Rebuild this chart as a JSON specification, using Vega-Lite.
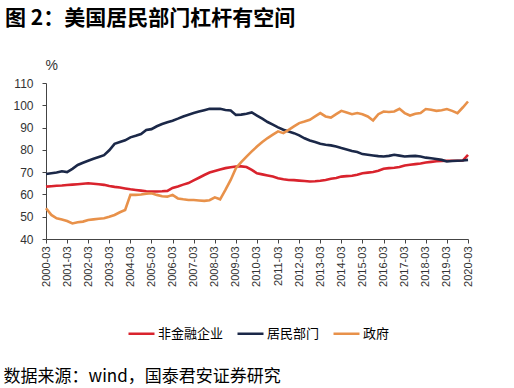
{
  "$schema": "https://vega.github.io/schema/vega-lite/v6.json",
  "padding": {"left": 3, "top": 8, "right": 5, "bottom": 2},
  "background": "white",
  "width": 422,
  "height": 156,
  "title": {"text": "图 2：美国居民部门杠杆有空间", "anchor": "start", "frame": "group", "font": "Noto Sans CJK SC", "fontSize": 21, "fontWeight": "bold", "color": "#000000", "offset": 29, "dx": -41},
  "data": {"values": [
      {"d": "2000-03-01", "a": 63.5, "b": 69.2, "c": 53.8},
      {"d": "2000-06-01", "a": 63.7, "b": 69.5, "c": 50.8},
      {"d": "2000-09-01", "a": 63.9, "b": 69.8, "c": 49.3},
      {"d": "2000-12-01", "a": 64.0, "b": 70.4, "c": 48.8},
      {"d": "2001-03-01", "a": 64.2, "b": 70.0, "c": 48.1},
      {"d": "2001-06-01", "a": 64.4, "b": 71.5, "c": 47.0},
      {"d": "2001-09-01", "a": 64.6, "b": 73.2, "c": 47.5},
      {"d": "2001-12-01", "a": 64.8, "b": 74.2, "c": 47.8},
      {"d": "2002-03-01", "a": 65.0, "b": 75.1, "c": 48.5},
      {"d": "2002-06-01", "a": 64.8, "b": 76.0, "c": 48.8},
      {"d": "2002-09-01", "a": 64.6, "b": 76.8, "c": 49.1},
      {"d": "2002-12-01", "a": 64.3, "b": 77.6, "c": 49.3},
      {"d": "2003-03-01", "a": 63.8, "b": 79.8, "c": 50.0},
      {"d": "2003-06-01", "a": 63.4, "b": 82.7, "c": 50.8},
      {"d": "2003-09-01", "a": 63.1, "b": 83.5, "c": 52.0},
      {"d": "2003-12-01", "a": 62.7, "b": 84.3, "c": 53.0},
      {"d": "2004-03-01", "a": 62.3, "b": 85.6, "c": 59.8},
      {"d": "2004-06-01", "a": 62.0, "b": 86.3, "c": 59.8},
      {"d": "2004-09-01", "a": 61.7, "b": 87.1, "c": 60.0},
      {"d": "2004-12-01", "a": 61.4, "b": 88.9, "c": 60.3},
      {"d": "2005-03-01", "a": 61.3, "b": 89.3, "c": 60.5},
      {"d": "2005-06-01", "a": 61.3, "b": 90.6, "c": 59.8},
      {"d": "2005-09-01", "a": 61.4, "b": 91.6, "c": 59.2},
      {"d": "2005-12-01", "a": 61.6, "b": 92.4, "c": 59.0},
      {"d": "2006-03-01", "a": 62.9, "b": 93.1, "c": 59.8},
      {"d": "2006-06-01", "a": 63.6, "b": 94.0, "c": 58.2},
      {"d": "2006-09-01", "a": 64.4, "b": 95.0, "c": 57.8},
      {"d": "2006-12-01", "a": 65.1, "b": 95.8, "c": 57.5},
      {"d": "2007-03-01", "a": 66.3, "b": 96.5, "c": 57.5},
      {"d": "2007-06-01", "a": 67.5, "b": 97.2, "c": 57.3},
      {"d": "2007-09-01", "a": 68.7, "b": 97.8, "c": 57.1},
      {"d": "2007-12-01", "a": 69.8, "b": 98.4, "c": 57.4},
      {"d": "2008-03-01", "a": 70.5, "b": 98.4, "c": 58.7},
      {"d": "2008-06-01", "a": 71.2, "b": 98.4, "c": 57.8},
      {"d": "2008-09-01", "a": 71.8, "b": 97.9, "c": 62.0},
      {"d": "2008-12-01", "a": 72.2, "b": 97.7, "c": 66.5},
      {"d": "2009-03-01", "a": 72.5, "b": 95.7, "c": 71.8},
      {"d": "2009-06-01", "a": 72.6, "b": 95.8, "c": 74.5},
      {"d": "2009-09-01", "a": 72.3, "b": 96.2, "c": 77.0},
      {"d": "2009-12-01", "a": 71.0, "b": 96.8, "c": 79.3},
      {"d": "2010-03-01", "a": 69.5, "b": 95.4, "c": 81.5},
      {"d": "2010-06-01", "a": 69.0, "b": 94.0, "c": 83.5},
      {"d": "2010-09-01", "a": 68.5, "b": 92.5, "c": 85.3},
      {"d": "2010-12-01", "a": 68.0, "b": 91.3, "c": 86.8},
      {"d": "2011-03-01", "a": 67.3, "b": 90.1, "c": 88.3},
      {"d": "2011-06-01", "a": 66.8, "b": 89.0, "c": 87.5},
      {"d": "2011-09-01", "a": 66.5, "b": 88.2, "c": 89.0},
      {"d": "2011-12-01", "a": 66.4, "b": 87.5, "c": 90.5},
      {"d": "2012-03-01", "a": 66.2, "b": 86.5, "c": 92.0},
      {"d": "2012-06-01", "a": 66.0, "b": 85.2, "c": 92.7},
      {"d": "2012-09-01", "a": 65.8, "b": 84.2, "c": 93.5},
      {"d": "2012-12-01", "a": 65.9, "b": 83.5, "c": 95.0},
      {"d": "2013-03-01", "a": 66.1, "b": 82.7, "c": 96.5},
      {"d": "2013-06-01", "a": 66.5, "b": 82.3, "c": 95.0},
      {"d": "2013-09-01", "a": 67.0, "b": 82.0, "c": 94.5},
      {"d": "2013-12-01", "a": 67.4, "b": 81.5, "c": 96.0},
      {"d": "2014-03-01", "a": 68.0, "b": 80.8, "c": 97.5},
      {"d": "2014-06-01", "a": 68.2, "b": 80.2, "c": 96.8},
      {"d": "2014-09-01", "a": 68.4, "b": 79.5, "c": 96.0},
      {"d": "2014-12-01", "a": 68.8, "b": 79.0, "c": 96.5},
      {"d": "2015-03-01", "a": 69.5, "b": 78.1, "c": 96.0},
      {"d": "2015-06-01", "a": 69.8, "b": 77.8, "c": 95.0},
      {"d": "2015-09-01", "a": 70.1, "b": 77.5, "c": 93.2},
      {"d": "2015-12-01", "a": 70.6, "b": 77.2, "c": 96.0},
      {"d": "2016-03-01", "a": 71.5, "b": 77.0, "c": 97.2},
      {"d": "2016-06-01", "a": 71.8, "b": 77.3, "c": 97.0},
      {"d": "2016-09-01", "a": 72.0, "b": 77.8, "c": 97.2},
      {"d": "2016-12-01", "a": 72.3, "b": 77.4, "c": 98.4},
      {"d": "2017-03-01", "a": 73.0, "b": 77.0, "c": 96.5},
      {"d": "2017-06-01", "a": 73.3, "b": 77.2, "c": 95.4},
      {"d": "2017-09-01", "a": 73.6, "b": 77.3, "c": 96.2},
      {"d": "2017-12-01", "a": 73.9, "b": 77.0, "c": 96.5},
      {"d": "2018-03-01", "a": 74.3, "b": 76.5, "c": 98.3},
      {"d": "2018-06-01", "a": 74.6, "b": 76.2, "c": 98.0},
      {"d": "2018-09-01", "a": 74.9, "b": 75.9, "c": 97.5},
      {"d": "2018-12-01", "a": 75.0, "b": 75.5, "c": 97.8},
      {"d": "2019-03-01", "a": 75.1, "b": 74.8, "c": 98.3},
      {"d": "2019-06-01", "a": 75.1, "b": 75.0, "c": 97.5},
      {"d": "2019-09-01", "a": 75.1, "b": 75.1, "c": 96.5},
      {"d": "2019-12-01", "a": 75.2, "b": 75.2, "c": 99.0},
      {"d": "2020-03-01", "a": 77.8, "b": 75.5, "c": 101.7}
  ]},
  "transform": [
    {"fold": ["a", "b", "c"], "as": ["k", "v"]},
    {"lookup": "k", "from": {"data": {"values": [
      {"k": "a", "s": "非金融企业"},
      {"k": "b", "s": "居民部门"},
      {"k": "c", "s": "政府"}
    ]}, "key": "k", "fields": ["s"]}}
  ],
  "mark": {"type": "line", "strokeWidth": 2.6, "interpolate": "linear"},
  "encoding": {
    "x": {
      "field": "d", "type": "temporal",
      "scale": {"type": "utc", "domain": [{"year": 2000, "month": 3, "date": 1, "utc": true}, {"year": 2020, "month": 3, "date": 1, "utc": true}], "nice": false},
      "axis": {
        "title": "数据来源：wind，国泰君安证券研究",
        "titleFont": "Noto Sans CJK SC",
        "titleFontSize": 17,
        "titleFontWeight": "normal",
        "titleColor": "#000000",
        "titleAlign": "left",
        "titleAnchor": "start",
        "titleBaseline": "middle",
        "titleX": -43,
        "titleY": 137,
        "values": [
          {"year": 2000, "month": 3, "date": 1, "utc": true},
          {"year": 2001, "month": 3, "date": 1, "utc": true},
          {"year": 2002, "month": 3, "date": 1, "utc": true},
          {"year": 2003, "month": 3, "date": 1, "utc": true},
          {"year": 2004, "month": 3, "date": 1, "utc": true},
          {"year": 2005, "month": 3, "date": 1, "utc": true},
          {"year": 2006, "month": 3, "date": 1, "utc": true},
          {"year": 2007, "month": 3, "date": 1, "utc": true},
          {"year": 2008, "month": 3, "date": 1, "utc": true},
          {"year": 2009, "month": 3, "date": 1, "utc": true},
          {"year": 2010, "month": 3, "date": 1, "utc": true},
          {"year": 2011, "month": 3, "date": 1, "utc": true},
          {"year": 2012, "month": 3, "date": 1, "utc": true},
          {"year": 2013, "month": 3, "date": 1, "utc": true},
          {"year": 2014, "month": 3, "date": 1, "utc": true},
          {"year": 2015, "month": 3, "date": 1, "utc": true},
          {"year": 2016, "month": 3, "date": 1, "utc": true},
          {"year": 2017, "month": 3, "date": 1, "utc": true},
          {"year": 2018, "month": 3, "date": 1, "utc": true},
          {"year": 2019, "month": 3, "date": 1, "utc": true},
          {"year": 2020, "month": 3, "date": 1, "utc": true}
        ],
        "labelExpr": "utcFormat(datum.value, '%Y-%m')",
        "labelAngle": -90,
        "labelFont": "Liberation Sans",
        "labelFontSize": 11,
        "labelColor": "#333333",
        "labelPadding": 3,
        "labelOverlap": false,
        "labelFlush": false,
        "tickSize": 4,
        "tickColor": "#444444",
        "domainColor": "#444444",
        "grid": false
      }
    },
    "y": {
      "field": "v", "type": "quantitative",
      "scale": {"domain": [40, 110], "nice": false, "zero": false},
      "axis": {
        "title": "%",
        "titleAngle": 0,
        "titleAlign": "left",
        "titleBaseline": "bottom",
        "titleX": -1,
        "titleY": -11,
        "titleFont": "Liberation Sans",
        "titleFontSize": 14,
        "titleFontWeight": "normal",
        "titleColor": "#333333",
        "values": [40, 50, 60, 70, 80, 90, 100, 110],
        "labelFont": "Liberation Sans",
        "labelFontSize": 12,
        "labelColor": "#333333",
        "labelPadding": 9,
        "tickSize": 4,
        "tickColor": "#444444",
        "domainColor": "#444444",
        "grid": false
      }
    },
    "color": {
      "field": "s", "type": "nominal",
      "scale": {"domain": ["非金融企业", "居民部门", "政府"], "range": ["#D9232D", "#1B2848", "#E8914A"]},
      "legend": {
        "title": null,
        "orient": "none",
        "legendX": 81,
        "legendY": 236,
        "direction": "horizontal",
        "symbolType": "stroke",
        "symbolSize": 676,
        "symbolStrokeWidth": 2.5,
        "labelFont": "Noto Sans CJK SC",
        "labelFontSize": 13,
        "labelColor": "#000000",
        "labelOffset": 2,
        "columnPadding": 8
      }
    }
  },
  "config": {
    "view": {"stroke": null}
  }
}
